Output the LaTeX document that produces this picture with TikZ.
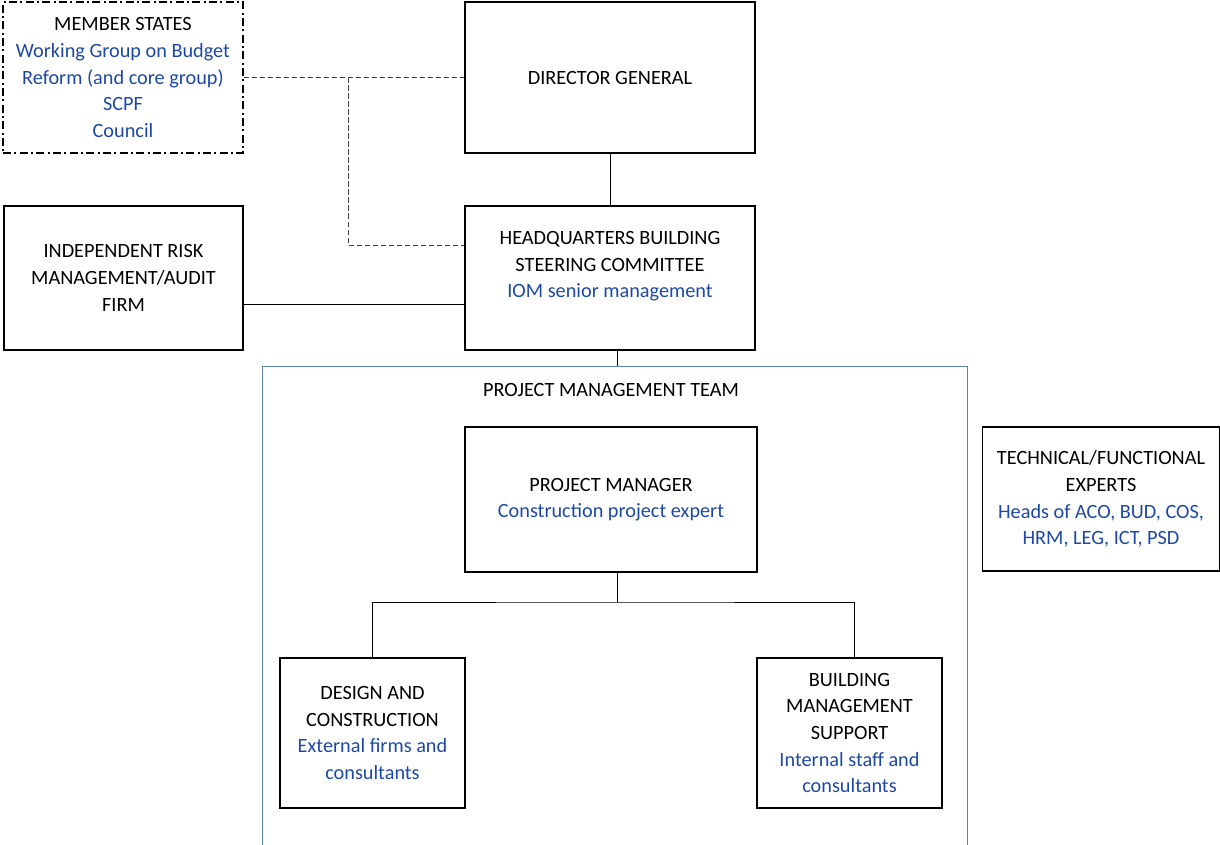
\documentclass[tikz,border=0pt]{standalone}
\usepackage{fontspec}
\setmainfont{Carlito}
\usepackage{xcolor}
\usetikzlibrary{positioning}
\definecolor{subblue}{RGB}{30,72,165}
\definecolor{teamframe}{RGB}{92,130,180}
\newcommand{\sub}[1]{\textcolor{subblue}{#1}}
\tikzset{
  orgbox/.style={draw,line width=1.2pt,align=center,inner sep=0pt},
  msbox/.style={orgbox,line width=1.1pt,dash pattern=on 6pt off 2.5pt on 1.5pt off 2.5pt},
  link/.style={line width=0.65pt},
  linkdash/.style={line width=0.65pt,color=black!75,dash pattern=on 3.8pt off 2.2pt},
  every node/.style={font=\fontsize{15.2}{20}\selectfont}
}
\begin{document}
\begin{tikzpicture}[x=0.75pt,y=-0.75pt]
\useasboundingbox (0,0) rectangle (1220,845);
\node[msbox,minimum width=180pt,minimum height=113pt] (ms) at (123,77.5)
  {MEMBER STATES\\ \sub{Working Group on Budget}\\ \sub{Reform (and core group)}\\ \sub{SCPF}\\ \sub{Council}};
\node[orgbox,minimum width=217.5pt,minimum height=113pt] (dg) at (610,77.5) {DIRECTOR GENERAL};
\node[orgbox,minimum width=217.5pt,minimum height=108pt] (hq) at (610,278)
  {HEADQUARTERS BUILDING\\ STEERING COMMITTEE\\ \sub{IOM senior management}\\ \mbox{}};
\node[orgbox,minimum width=179pt,minimum height=108pt] (risk) at (123.5,278)
  {INDEPENDENT RISK\\ MANAGEMENT/AUDIT\\ FIRM};
\node (pmt) at (611,390) {PROJECT MANAGEMENT TEAM};
\node[orgbox,minimum width=219pt,minimum height=108.5pt] (pm) at (611,499.5)
  {PROJECT MANAGER\\ \sub{Construction project expert}};
\node[orgbox,minimum width=139pt,minimum height=112.5pt] (design) at (372.5,733)
  {DESIGN AND\\ CONSTRUCTION\\ \sub{External firms and}\\ \sub{consultants}};
\node[orgbox,minimum width=139pt,minimum height=112.5pt] (bms) at (849.5,733)
  {BUILDING\\ MANAGEMENT\\ SUPPORT\\ \sub{Internal staff and}\\ \sub{consultants}};
\node[orgbox,minimum width=178pt,minimum height=108pt] (tech) at (1101,499)
  {TECHNICAL/FUNCTIONAL\\ EXPERTS\\ \sub{Heads of ACO, BUD, COS,}\\ \sub{HRM, LEG, ICT, PSD}};

\draw[teamframe,line width=0.7pt] (262,845) |- (967,366) -- (967,845);
\coordinate (pmttop) at (617,366);
\coordinate (msjoin) at (348,77.5);
\coordinate (fork) at (617,602);

\draw[link] (dg) -- (hq);
\draw[link] ([yshift=-20pt]risk.east) -- ([yshift=-20pt]hq.west);
\draw[link] (hq.south -| pmttop) -- (pmttop);
\draw[linkdash] (ms.east) -- (dg.west);
\draw[linkdash] (msjoin) |- ([yshift=24.75pt]hq.west);
\draw[link] (pm.south -| fork) -- (fork);
\draw[link] (design.north) |- (fork) -| ([xshift=4pt]bms.north);
\end{tikzpicture}
\end{document}
